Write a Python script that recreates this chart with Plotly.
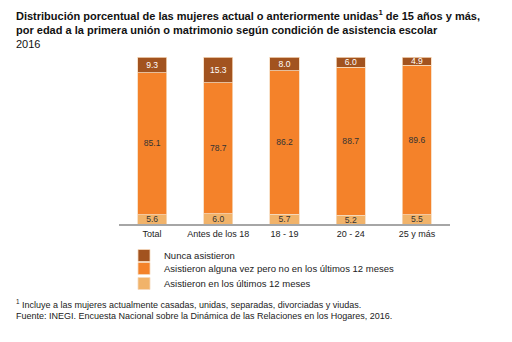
import plotly.graph_objects as go

categories = ["Total", "Antes de los 18", "18 - 19", "20 - 24", "25 y más"]
ultimos_12 = [5.6, 6.0, 5.7, 5.2, 5.5]
alguna_vez = [85.1, 78.7, 86.2, 88.7, 89.6]
nunca = [9.3, 15.3, 8.0, 6.0, 4.9]

series = [
    ("Asistieron en los últimos 12 meses", ultimos_12, "#F1B36A", "#333333", "legend3"),
    ("Asistieron alguna vez pero no en los últimos 12 meses", alguna_vez, "#F4822A", "#333333", "legend2"),
    ("Nunca asistieron", nunca, "#A2531F", "#FFFFFF", "legend"),
]

fig = go.Figure()
for name, vals, color, tcolor, lg in series:
    fig.add_trace(go.Bar(
        x=categories, y=vals, name=name, legend=lg,
        marker=dict(color=color, line=dict(color="#F6D9BC", width=0.8)),
        text=[f"{v:.1f}" for v in vals], textposition="inside",
        insidetextanchor="middle", textangle=0,
        textfont=dict(family="Liberation Sans", size=9, color=tcolor),
        width=0.44,
    ))

PT, PB, PL, PW = 57, 224, 119, 331
PH = PB - PT


def legend_at(top_px):
    return dict(
        orientation="v",
        x=(124 - PL) / PW, xref="paper", xanchor="left",
        y=(PB - top_px) / PH, yref="paper", yanchor="top",
        font=dict(family="Liberation Sans", size=9.5, color="#222222"),
        itemwidth=30, bgcolor="rgba(0,0,0,0)",
    )


fig.update_layout(
    barmode="stack",
    width=512, height=342,
    margin=dict(l=PL, r=512 - PL - PW, t=PT, b=342 - PB, autoexpand=False),
    paper_bgcolor="white", plot_bgcolor="white",
    font=dict(family="Liberation Sans", size=9, color="#222222"),
    uniformtext=dict(minsize=8, mode="show"),
    showlegend=True,
    legend=legend_at(241),
    legend2=legend_at(254),
    legend3=legend_at(269),
)
fig.update_xaxes(
    showline=True, linecolor="#A6A6A6", linewidth=1.5,
    ticks="", tickfont=dict(family="Liberation Sans", size=9, color="#222222"),
    showgrid=False,
)
fig.update_yaxes(range=[0, 100], visible=False, showgrid=False)

fig.add_annotation(
    text="<b>Distribución porcentual de las mujeres actual o anteriormente unidas<sup>1</sup> de 15 años y más,</b><br>"
         "<b>por edad a la primera unión o matrimonio según condición de asistencia escolar</b><br>2016",
    xref="paper", yref="paper", x=-(PL - 14) / PW, y=1 + (PT - 6) / PH,
    showarrow=False, align="left", xanchor="left", yanchor="top",
    font=dict(family="Liberation Sans", size=11, color="#111111"),
)
fig.add_annotation(
    text="<sup>1</sup> Incluye a las mujeres actualmente casadas, unidas, separadas, divorciadas y viudas.<br>"
         "Fuente: INEGI. Encuesta Nacional sobre la Dinámica de las Relaciones en los Hogares, 2016.",
    xref="paper", yref="paper", x=-(PL - 14) / PW, y=-(296 - PB) / PH,
    showarrow=False, align="left", xanchor="left", yanchor="top",
    font=dict(family="Liberation Sans", size=9, color="#222222"),
)

fig.write_html("out.html")
